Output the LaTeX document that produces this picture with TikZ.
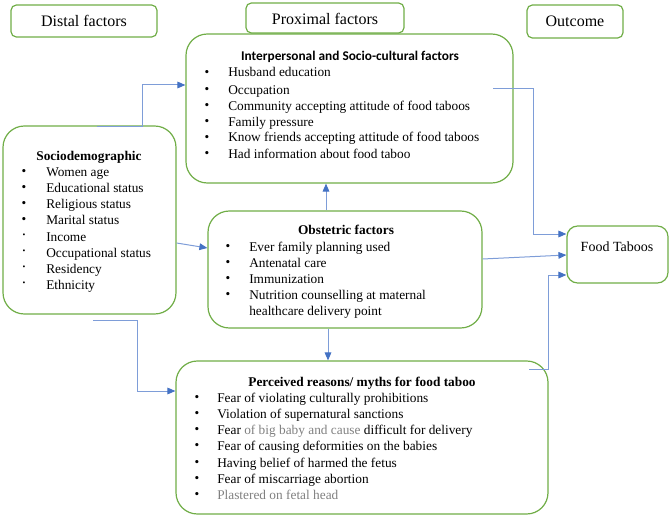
\documentclass[tikz,border=0pt]{standalone}
\usepackage{fontspec}
\setmainfont{Liberation Serif}
\newfontfamily\calibrifont{Carlito}
\usetikzlibrary{arrows.meta,fit}
\definecolor{boxgreen}{HTML}{70AD47}
\definecolor{linkblue}{HTML}{7E9DD8}
\definecolor{tipblue}{HTML}{4472C4}
\definecolor{greytext}{HTML}{808080}
\tikzset{
  box/.style={draw=boxgreen, line width=0.9pt, rounded corners=16pt, inner sep=0pt},
  hbox/.style={draw=boxgreen, line width=0.9pt, rounded corners=4pt, inner sep=0pt},
  htxt/.style={font=\fontsize{12}{14}\selectfont, inner sep=0pt, anchor=base},
  fbox/.style={draw=boxgreen, line width=0.9pt, rounded corners=8pt, inner sep=0pt},
  conn/.style={draw=linkblue, line width=0.75pt, -{Triangle[length=6pt,width=5pt,color=tipblue]}},
  txt/.style={font=\fontsize{10}{12}\selectfont, inner sep=0pt, anchor=base west},
  ttl/.style={font=\fontsize{10}{12}\selectfont\bfseries, inner sep=0pt, anchor=base},
  bul/.style={font=\fontsize{10}{12}\selectfont, inner sep=0pt, anchor=center},
  sbul/.style={font=\fontsize{6}{7}\selectfont, inner sep=0pt, anchor=center}
}
\begin{document}
\begin{tikzpicture}[x=0.75pt,y=-0.75pt]
\useasboundingbox (0,0) rectangle (671,517);

% header boxes
\node[hbox, fit={(11,5) (157,37)}] (distal) {};
\node[hbox, fit={(246,3) (404,33)}] (proximal) {};
\node[hbox, fit={(527,5) (623,38)}] (outcome) {};
\node[htxt] (distalT) at (84,27) {Distal factors};
\node[htxt] (proximalT) at (325,25) {Proximal factors};
\node[htxt] (outcomeT) at (575,27) {Outcome};

% main boxes
\node[box, fit={(186,34) (513,183)}] (interp) {};
\node[box, fit={(3,126) (176,314)}] (socio) {};
\node[box, fit={(208,211) (482,328)}] (obst) {};
\node[fbox, fit={(567,226) (668,283)}] (food) {};
\node[box, fit={(176,361) (548,514)}] (perc) {};

% interpersonal
\node[ttl, font=\fontsize{10}{12}\selectfont\calibrifont\bfseries] (interpT) at (350,61) {Interpersonal and Socio-cultural factors};
\foreach \t/\yy [count=\i] in {Husband education/73, Occupation/90, Community accepting attitude of food taboos/106, Family pressure/122, Know friends accepting attitude of food taboos/138, Had information about food taboo/154}{
  \node[bul] (interpB\i) at (207,\yy) {•};
  \node[txt] (interpI\i) at (228,\yy+4) {\t};
}

% sociodemographic
\node[ttl] (socioT) at (89,160) {Sociodemographic};
\foreach \t/\yy [count=\i] in {Women age/172, Educational status/188, Religious status/204, Marital status/220}{
  \node[bul] (socioB\i) at (24,\yy) {•};
  \node[txt] (socioI\i) at (46,\yy+4) {\t};
}
\foreach \t/\yy [count=\i from 5] in {Income/237, Occupational status/253, Residency/269, Ethnicity/285}{
  \node[sbul] (socioB\i) at (24,\yy-1) {•};
  \node[txt] (socioI\i) at (46,\yy+4) {\t};
}

% obstetric
\node[ttl] (obstT) at (346,234) {Obstetric factors};
\foreach \t/\yy [count=\i] in {Ever family planning used/247, Antenatal care/263, Immunization/279, Nutrition counselling at maternal/295}{
  \node[bul] (obstB\i) at (228,\yy) {•};
  \node[txt] (obstI\i) at (249,\yy+4) {\t};
}
\node[txt] (obstI5) at (249,315) {healthcare delivery point};

% food taboos
\node[font=\fontsize{10.5}{12}\selectfont, inner sep=0pt] (foodT) at (617,247) {Food Taboos};

% perceived
\node[ttl] (percT) at (362,386) {Perceived reasons/ myths for food taboo};
\foreach \t/\yy [count=\i] in {Fear of violating culturally prohibitions/398, Violation of supernatural sanctions/414, {Fear {\color{greytext}of big baby and cause} difficult for delivery}/430, Fear of causing deformities on the babies/446, Having belief of harmed the fetus/463, Fear of miscarriage abortion/479, {\color{greytext}Plastered on fetal head}/495}{
  \node[bul] (percB\i) at (197,\yy) {•};
  \node[txt] (percI\i) at (217,\yy+4) {\t};
}

% helper coordinates
\coordinate (a1) at (97,126);
\coordinate (a2) at (142,126);
\coordinate (h85) at (0,85);
\coordinate (h243) at (0,243);
\coordinate (h248) at (0,248);
\coordinate (v326) at (326,0);
\coordinate (c4) at (493,89);
\coordinate (c4b) at (533,89);
\coordinate (h234) at (0,234);
\coordinate (h259) at (0,259);
\coordinate (h255) at (0,255);
\coordinate (v328) at (328,0);
\coordinate (c7) at (93,320);
\coordinate (c7b) at (137,320);
\coordinate (h391) at (0,391);
\coordinate (c8) at (529,369);
\coordinate (c8b) at (548,369);
\coordinate (h275) at (0,275);

% connectors
\draw[conn] (a1) -- (a2) |- (interp.west |- h85);
\draw[conn] (socio.east |- h243) -- (obst.west |- h248);
\draw[conn] (obst.north -| v326) -- (interp.south -| v326);
\draw[conn] (c4) -- (c4b) |- (food.west |- h234);
\draw[conn] (obst.east |- h259) -- (food.west |- h255);
\draw[conn] (obst.south -| v328) -- (perc.north -| v328);
\draw[conn] (c7) -- (c7b) |- (perc.west |- h391);
\draw[conn] (c8) -- (c8b) |- (food.west |- h275);
\end{tikzpicture}
\end{document}
